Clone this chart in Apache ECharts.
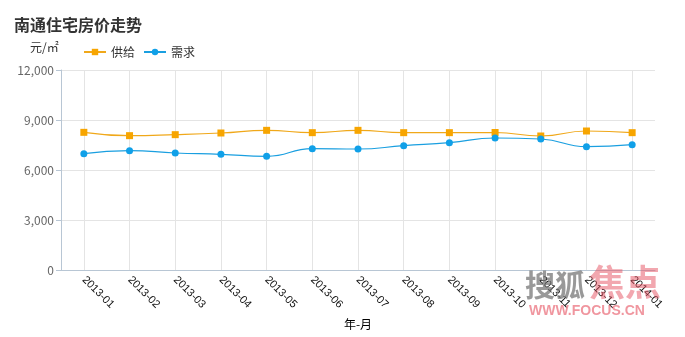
<!DOCTYPE html>
<html>
<head>
<meta charset="utf-8">
<script src="https://cdn.jsdelivr.net/npm/echarts@6/dist/echarts.min.js"></script>
<style>
  html, body { margin: 0; padding: 0; background: #fff; }
  #chart { width: 685px; height: 337px; }
</style>
</head>
<body>
<div id="chart"></div>
<script>
// Months on the category axis
const months = ['2013-01','2013-02','2013-03','2013-04','2013-05','2013-06','2013-07',
                '2013-08','2013-09','2013-10','2013-11','2013-12','2014-01'];
// Average listing price (supply) and demand price, yuan per square metre
const supply = [8260, 8060, 8120, 8220, 8380, 8240, 8380, 8240, 8240, 8250, 8040, 8340, 8240];
const demand = [6980, 7160, 7020, 6940, 6820, 7280, 7260, 7460, 7640, 7920, 7860, 7400, 7520];
const seriesNames = ['供给', '需求'];
const yTicks = { min: 0, max: 12000, interval: 3000 };

const FONT = '"Microsoft YaHei", "Noto Sans CJK SC", sans-serif';
const chart = echarts.init(document.getElementById('chart'));

chart.setOption({
  animation: false,
  textStyle: { fontFamily: FONT },
  title: {
    text: '南通住宅房价走势',
    left: 9, top: 12,
    textStyle: { fontSize: 16, fontWeight: 'bold', color: '#333', fontFamily: FONT }
  },
  graphic: [
    { type: 'text', left: 30, top: 41, style: { text: '元/㎡', fill: '#333', font: '12px ' + FONT } },
    // site watermark in the lower right corner
    { type: 'text', left: 525, top: 270, z: 100, style: { text: '搜狐', fill: 'rgba(110,110,110,0.7)', font: 'bold 30px ' + FONT } },
    { type: 'text', left: 589, top: 264, z: 100, style: { text: '焦点', fill: 'rgba(230,80,95,0.5)', font: 'bold 36px ' + FONT } },
    { type: 'text', left: 529, top: 304, z: 100, style: { text: 'WWW.FOCUS.CN', fill: 'rgba(230,80,95,0.6)', font: 'bold 14px Arial, "Liberation Sans", sans-serif' } }
  ],
  legend: {
    left: 78, top: 41,
    itemWidth: 22, itemHeight: 8, itemGap: 8,
    textStyle: { fontSize: 12, color: '#333' },
    data: seriesNames
  },
  grid: { left: 61, right: 30, top: 70, bottom: 67, containLabel: false },
  xAxis: {
    type: 'category',
    data: months,
    boundaryGap: true,
    name: '年-月',
    nameLocation: 'middle',
    nameGap: 48,
    nameTextStyle: { color: '#000', fontSize: 12 },
    axisLine: { lineStyle: { color: '#b8c6d4' } },
    axisTick: { alignWithLabel: true, length: 4, lineStyle: { color: '#b8c6d4' } },
    axisLabel: { rotate: -45, color: '#111', fontSize: 11, margin: 8, interval: 0, fontFamily: 'Arial, "Liberation Sans", sans-serif' },
    splitLine: { show: false }
  },
  yAxis: {
    type: 'value',
    min: yTicks.min, max: yTicks.max, interval: yTicks.interval,
    axisLine: { show: true, lineStyle: { color: '#b8c6d4' } },
    axisTick: { show: true, length: 5, lineStyle: { color: '#b8c6d4' } },
    axisLabel: {
      color: '#666', fontSize: 12, margin: 7,
      formatter: v => v.toLocaleString('en-US')
    },
    splitLine: { lineStyle: { color: '#e4e4e4' } }
  },
  series: [
    {
      name: seriesNames[0],
      type: 'line',
      data: supply,
      smooth: true,
      symbol: 'rect',
      symbolSize: 7,
      itemStyle: { color: '#f7a500' },
      lineStyle: { width: 1.2, color: '#f0a81a' },
      // vertical guide lines at each month
      markLine: {
        silent: true,
        symbol: 'none',
        label: { show: false },
        lineStyle: { color: '#e4e4e4', type: 'solid', width: 1 },
        z: 0,
        data: months.map(m => ({ xAxis: m }))
      }
    },
    {
      name: seriesNames[1],
      type: 'line',
      data: demand,
      smooth: true,
      symbol: 'circle',
      symbolSize: 7,
      itemStyle: { color: '#10a0e8' },
      lineStyle: { width: 1.2, color: '#1a9fe0' }
    }
  ]
});
</script>
</body>
</html>
